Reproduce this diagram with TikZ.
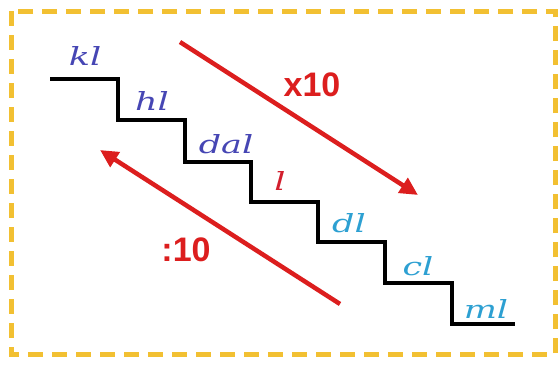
\documentclass[tikz,border=0pt]{standalone}
\usepackage{tikz}
\usetikzlibrary{arrows.meta,positioning,calc}
\usepackage{fontspec}
\newfontfamily\boldsans{Liberation Sans}
\newfontfamily\handfont{DejaVu Serif}
\usepackage{xcolor}
\definecolor{framecolor}{RGB}{242,192,50}
\definecolor{unitdark}{RGB}{70,70,180}
\definecolor{unitred}{RGB}{210,30,45}
\definecolor{unitlight}{RGB}{45,160,210}
\definecolor{arrowred}{RGB}{220,30,30}
\tikzset{
  frame/.style   = {draw=framecolor,line width=5pt,dash pattern=on 15pt off 9pt},
  stair/.style   = {draw=black,line width=4pt,line join=miter},
  unitlab/.style = {font=\fontsize{25}{25}\selectfont\handfont\itshape,
                    anchor=base,inner sep=0pt,xscale=1.4},
  convarrow/.style = {-{Triangle[length=18pt,width=17pt]},line width=4.5pt,color=arrowred},
  factor/.style  = {font=\fontsize{34}{34}\selectfont\boldsans\bfseries,color=arrowred},
}
\begin{document}
\begin{tikzpicture}[x=1pt,y=-1pt]
  \useasboundingbox[fill=white] (0,0) rectangle (559,365);
  \draw[frame] (11,11) rectangle (555,354);

  % staircase
  \draw[stair] (50,79) -- (118,79) -- (118,120) -- (185,120) -- (185,162)
    -- (251,162) -- (251,202) -- (318,202) -- (318,242) -- (385,242)
    -- (385,283) -- (452,283) -- (452,324) -- (515,324);

  % units on the steps
  \foreach \name/\x/\y/\col/\lab in {
    kl/85/65/unitdark/kl,
    hl/152/110/unitdark/hl,
    dal/226/153/unitdark/dal,
    l/280/190/unitred/l,
    dl/349/232/unitlight/dl,
    cl/418/275/unitlight/cl,
    ml/486/318/unitlight/ml}{
    \node[unitlab,color=\col] (\name) at (\x,\y) {\lab};
  }

  % conversions
  \coordinate (mulstart) at (180,42);
  \coordinate (mulend)   at (418,195);
  \coordinate (divstart) at (340,304);
  \coordinate (divend)   at (100,150);
  \draw[convarrow] (mulstart) -- (mulend);
  \draw[convarrow] (divstart) -- (divend);
  \node[factor] (times) at (312,85) {x10};
  \node[factor] (divide) at (186,250) {:10};
\end{tikzpicture}
\end{document}
